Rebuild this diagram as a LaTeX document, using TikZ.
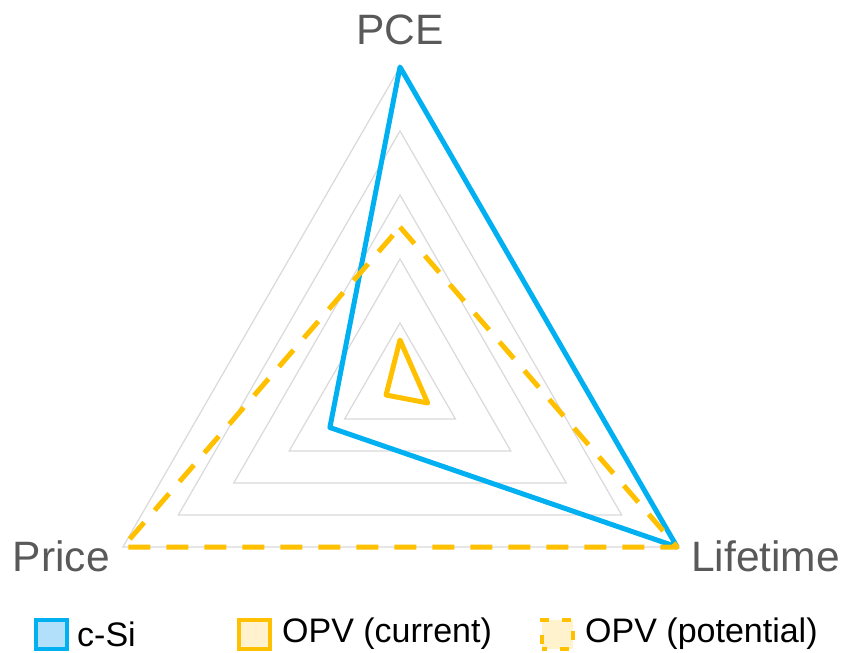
\documentclass[tikz,border=0pt]{standalone}
\usepackage{fontspec}
\setmainfont{Liberation Sans}
\definecolor{csi}{RGB}{0,176,240}
\definecolor{opv}{RGB}{255,192,0}
\definecolor{csifill}{RGB}{178,224,250}
\definecolor{opvfill}{RGB}{255,242,204}
\definecolor{gridc}{RGB}{217,217,217}
\definecolor{labc}{RGB}{89,89,89}
\begin{document}
\begin{tikzpicture}[x=1pt,y=-1pt,
  gridline/.style={draw=gridc,line width=1.2pt},
  series/.style={line width=5pt,line join=round},
  dashser/.style={series,draw=opv,dash pattern=on 22pt off 16pt},
  axlabel/.style={text=labc,font=\fontsize{42.5}{46}\selectfont,inner sep=0pt},
  legtext/.style={text=black,font=\fontsize{34}{37}\selectfont,inner sep=0pt,anchor=west},
  legbox/.style={minimum width=31pt,minimum height=29pt,inner sep=0pt,line width=4pt}]
\useasboundingbox (0,0) rectangle (844,653);
% grid
\foreach \k in {1,...,5}{
  \draw[gridline] (400,{387-320*\k/5}) -- ({400+277.1*\k/5},{387+160*\k/5}) -- ({400-277.1*\k/5},{387+160*\k/5}) -- cycle;
}
% data points
\coordinate (cT) at (400,67);
\coordinate (cL) at (677.1,547);
\coordinate (cP) at (329.9,427.5);
\coordinate (oT) at (400,340);
\coordinate (oL) at (427.7,403);
\coordinate (oP) at (386.1,395);
\coordinate (pT) at (400,227);
\coordinate (pL) at (677.1,547);
\coordinate (pP) at (122.9,547);
\draw[series,draw=csi] (cT) -- (cL) -- (cP) -- cycle;
\draw[series,draw=opv] (oT) -- (oL) -- (oP) -- cycle;
\draw[dashser] (pT) -- (pL) -- (pP) -- cycle;
% axis labels
\node[axlabel] (lpce) at (400,30) {PCE};
\node[axlabel,anchor=east] (lprice) at (110,556) {Price};
\node[axlabel,anchor=west] (llife) at (691,556) {Lifetime};
% legend
\node[legbox,draw=csi,fill=csifill] (b1) at (51,634) {};
\node[legtext] (t1) at (77,634) {c-Si};
\node[legbox,draw=opv,fill=opvfill] (b2) at (254,634) {};
\node[legtext] (t2) at (282,634) {OPV (current)};
\node[legbox,draw=opv,fill=opvfill,dash pattern=on 9pt off 13pt,dash phase=4pt] (b3) at (557,634) {};
\node[legtext] (t3) at (585,634) {OPV (potential)};
\end{tikzpicture}
\end{document}
